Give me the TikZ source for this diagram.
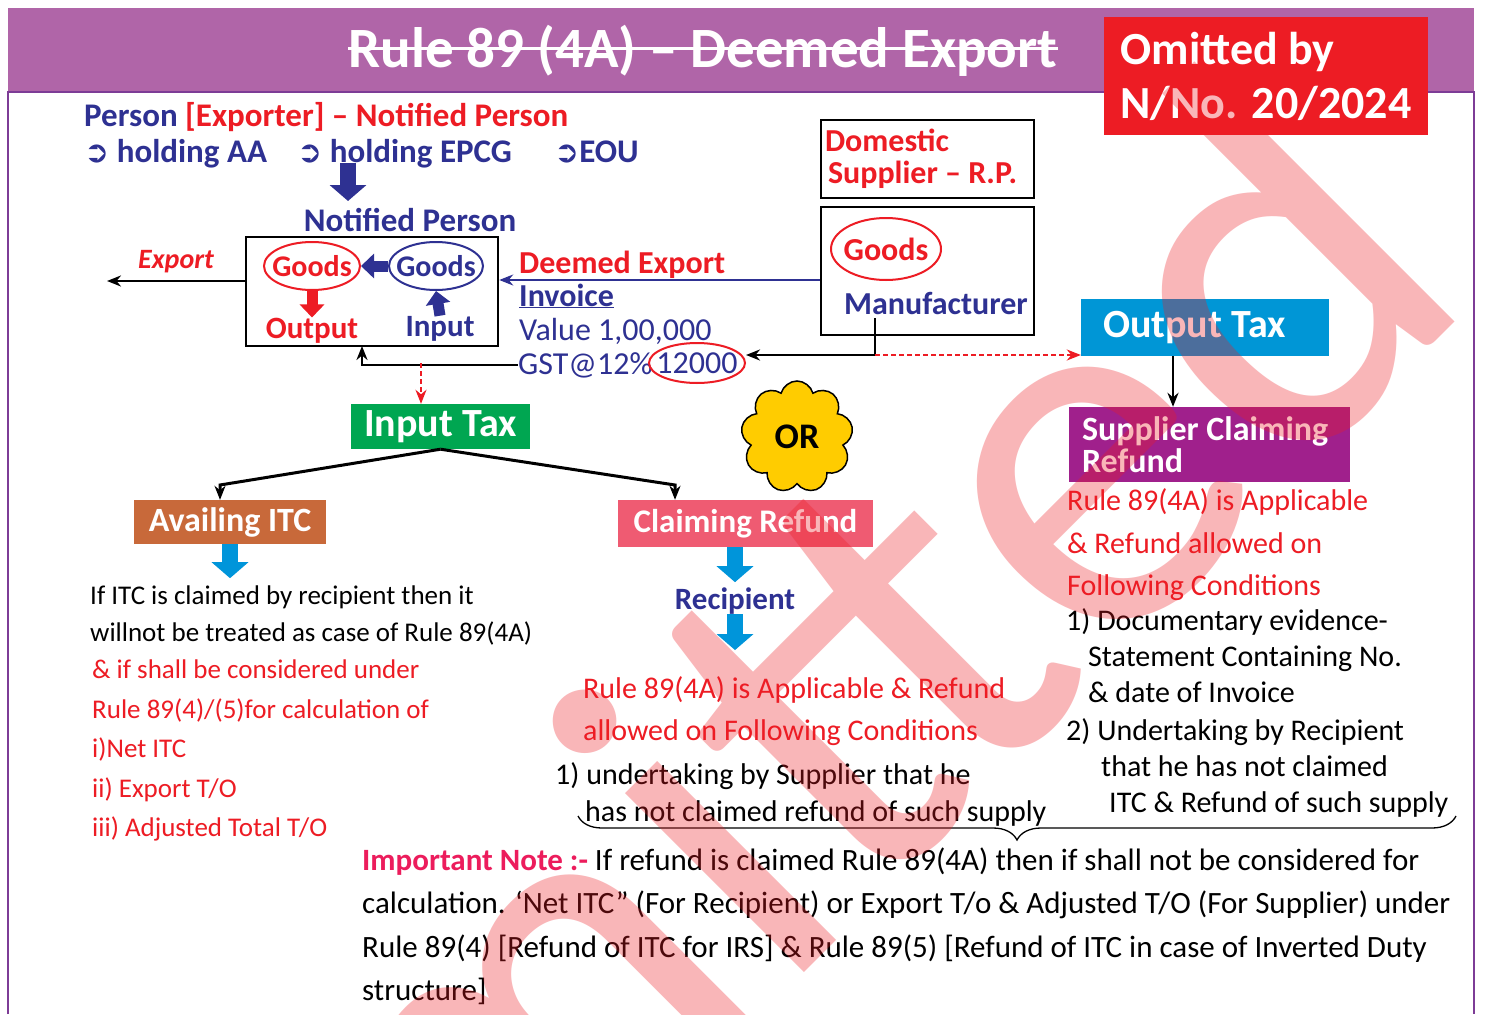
\documentclass[tikz,border=0pt]{standalone}
\usepackage{fontspec}
\setmainfont{Carlito}
\newfontfamily\dejavu{DejaVu Sans}
\usetikzlibrary{shapes.geometric,shapes.symbols,decorations.pathreplacing,arrows.meta}

\definecolor{bandpurple}{RGB}{176,101,168}
\definecolor{rulepurple}{RGB}{125,60,150}
\definecolor{omitred}{RGB}{237,28,36}
\definecolor{navy}{RGB}{46,49,146}
\definecolor{taxblue}{RGB}{0,150,214}
\definecolor{refundpurple}{RGB}{160,32,140}
\definecolor{taxgreen}{RGB}{0,166,81}
\definecolor{itcbrown}{RGB}{200,105,58}
\definecolor{claimpink}{RGB}{239,91,114}
\definecolor{arrowblue}{RGB}{0,149,218}
\definecolor{oryellow}{RGB}{255,204,0}
\definecolor{notepink}{RGB}{236,28,92}

\newcommand\fsz[1]{\fontsize{#1}{#1}\selectfont}

\begin{document}
\begin{tikzpicture}[x=1pt,y=-1pt,>={Stealth[length=14pt,width=11pt]},
  txt/.style={inner sep=0pt,anchor=base west},
  plainbox/.style={draw,line width=2.5pt,inner sep=0pt},
  colbox/.style={fill=#1,text=white,inner sep=0pt,font=\bfseries\fsz{34}},
  oval/.style={ellipse,draw=#1,line width=2pt,inner sep=0pt},
  block/.style={draw=#1,line width=16pt,-{Triangle[width=36pt,length=16pt]}},
  smallblock/.style={draw=#1,line width=11pt,-{Triangle[width=24pt,length=13pt]}},
  link/.style={line width=2.5pt,->},
  dashlink/.style={omitred,line width=2pt,dash pattern=on 5pt off 3pt,->},
  lcol/.style={txt,font=\fsz{27}},
  mcol/.style={txt,font=\fsz{30}},
  rcol/.style={txt,font=\fsz{30}},
  note/.style={txt,font=\fsz{31}}]
   \useasboundingbox (0,0) rectangle (1487,1014);
   \fill[white] (0,0) rectangle (1487,1014);

   % title band
   \fill[bandpurple] (8,8) rectangle (1474,92);
   \draw[rulepurple,line width=1.2pt] (8,1014) -- (8,92) -- (1474,92) -- (1474,1014);
   \node[txt,anchor=base,text=white,font=\bfseries\fsz{57}] (title) at (703,68) {Rule 89 (4A) -- Deemed Export};
   \draw[white,line width=3pt] ([yshift=19pt]title.base west) -- ([yshift=19pt]title.base east);
   \node[fill=omitred,text=white,font=\bfseries\fontsize{46}{54}\selectfont,minimum width=324pt,minimum height=118pt,
         inner sep=0pt,align=flush left] (omit) at (1266,76) {Omitted by\\N/No. 20/2024};

   % exporter
   \node[txt,text=navy,font=\bfseries\fsz{33}] (person) at (84,127) {Person \textcolor{omitred}{[Exporter] -- Notified Person}};
   \node[txt,text=navy,font=\bfseries\fsz{33}] (aa) at (84,162) {{\dejavu\fsz{30}➲} holding AA};
   \node[txt,text=navy,font=\bfseries\fsz{33}] (epcg) at (297,162) {{\dejavu\fsz{30}➲} holding EPCG};
   \node[txt,text=navy,font=\bfseries\fsz{33}] (eou) at (554,162) {{\dejavu\fsz{30}➲}EOU};
   \coordinate (epcgfoot) at (348,163);
   \draw[block=navy] (epcgfoot) -- ++(0,38);

   % notified person
   \node[txt,anchor=base,text=navy,font=\bfseries\fsz{33}] (nptitle) at (410,231) {Notified Person};
   \node[plainbox,minimum width=252pt,minimum height=109pt] (npbox) at (372,291.5) {};
   \node[oval=omitred,minimum width=96pt,minimum height=48pt,label={[text=omitred,font=\bfseries\fsz{30}]center:Goods}] (gout) at (312,266) {};
   \node[oval=navy,minimum width=94pt,minimum height=48pt,label={[text=navy,font=\bfseries\fsz{30}]center:Goods}] (gin) at (436,266) {};
   \node[txt,anchor=base,text=omitred,font=\bfseries\fsz{31}] (outp) at (312,338) {Output};
   \node[txt,anchor=base,text=navy,font=\bfseries\fsz{31}] (inp) at (440,336) {Input};
   \draw[smallblock=navy] (gin.west) -- (gout.east);
   \draw[smallblock=omitred] (gout.south) -- (outp.north);
   \draw[smallblock=navy] (inp.north) -- (gin.south);
   \coordinate (exptip) at (107,281);
   \draw[link] (npbox.west |- exptip) -- (exptip);
   \node[txt,text=omitred,font=\bfseries\itshape\fsz{28}] (export) at (138,268) {Export};

   % invoice
   \node[txt,text=omitred,font=\bfseries\fsz{32}] (deemed) at (519,273) {Deemed Export};
   \node[txt,text=navy,font=\bfseries\fsz{32}] (invoice) at (519,306) {\underline{Invoice}};
   \node[txt,text=navy,font=\fsz{32}] (value) at (519,340) {Value 1,00,000};
   \node[txt,text=navy,font=\fsz{32}] (gst) at (518,374) {GST@12\%};
   \node[oval=omitred,minimum width=96pt,minimum height=40pt,label={[text=navy,font=\fsz{32}]center:12000}] (amt) at (697,363) {};

   % domestic supplier
   \node[plainbox,minimum width=213pt,minimum height=78pt,text width=205pt,inner xsep=4pt,align=flush left,
         text=omitred,font=\bfseries\fsz{32}] (dsbox) at (927.5,159) {Domestic\\\hspace*{3pt}Supplier -- R.P.};
   \node[plainbox,minimum width=213pt,minimum height=128pt] (mfbox) at (927.5,271) {};
   \node[oval=omitred,minimum width=110pt,minimum height=62pt,label={[text=omitred,font=\bfseries\fsz{32}]center:Goods}] (gmf) at (886,249) {};
   \node[txt,anchor=base,text=navy,font=\bfseries\fsz{32}] (mf) at (936,314) {Manufacturer};
   \coordinate (invy) at (660,280);
   \draw[navy,line width=2pt,->] (mfbox.west |- invy) -- (npbox.east |- invy);

   % output tax
   \node[colbox=taxblue,font=\bfseries\fsz{40},minimum width=248pt,minimum height=57pt,text width=226pt,
         inner xsep=11pt,align=flush left] (outtax) at (1205,327.5) {\hspace*{11pt}Output Tax};
   \node[colbox=refundpurple,minimum width=281pt,minimum height=75pt,text width=255pt,inner xsep=13pt,align=flush left,
         font=\bfseries\fontsize{34}{32}\selectfont] (suprf) at (1209.5,444.5) {Supplier Claiming\\Refund};
   \coordinate (mfdrop) at (875,318);
   \coordinate (mfturn) at (875,355);
   \draw[link] (mfdrop) -- (mfturn) -- (mfturn -| amt.east);
   \draw[dashlink] (mfturn) -- (mfturn -| outtax.west);
   \coordinate (otdrop) at (1173,356);
   \draw[link] (otdrop) -- (otdrop |- suprf.north);

   % input tax
   \node[colbox=taxgreen,font=\bfseries\fsz{40},minimum width=179pt,minimum height=45pt] (intax) at (440.5,426.5) {Input Tax};
   \coordinate (npfoot) at (362,346);
   \draw[link] (gst.west) -| (npfoot);
   \coordinate (gstfork) at (421,363);
   \draw[dashlink] (gstfork) -- (gstfork |- intax.north);
   \node[cloud,cloud puffs=9,aspect=1,draw,line width=1.5pt,fill=oryellow,minimum width=112pt,minimum height=112pt,
         inner sep=0pt,font=\bfseries\fsz{36}] (orc) at (797,437) {OR};

   % branches
   \node[colbox=itcbrown,minimum width=192pt,minimum height=44pt] (avail) at (230,522) {Availing ITC};
   \node[colbox=claimpink,font=\bfseries\fsz{33},minimum width=255pt,minimum height=47pt] (claim) at (745.5,523.5) {Claiming Refund};
   \coordinate (lbend) at (220,485);
   \coordinate (rbend) at (675,485);
   \draw[link,line width=3pt] (intax.south) -- (lbend) -- (lbend |- avail.north);
   \draw[link,line width=3pt] (intax.south) -- (rbend) -- (rbend |- claim.north);
   \draw[block=arrowblue] (avail.south) -- ++(0,34);
   \node[txt,anchor=base,text=navy,font=\bfseries\fsz{31}] (recip) at (735,609) {Recipient};
   \draw[block=arrowblue] (claim.south -| recip) -- ++(0,35);
   \draw[block=arrowblue] (recip.south) -- ++(0,36);

   % availing ITC
   \node[lcol] (a1) at (90,604) {If ITC is claimed by recipient then it};
   \node[lcol] (a2) at (90,641) {willnot be treated as case of Rule 89(4A)};
   \node[lcol,text=omitred] (a3) at (92,678) {\& if shall be considered under};
   \node[lcol,text=omitred] (a4) at (92,718) {Rule 89(4)/(5)for calculation of};
   \node[lcol,text=omitred] (a5) at (92,757) {i)Net ITC};
   \node[lcol,text=omitred] (a6) at (92,797) {ii) Export T/O};
   \node[lcol,text=omitred] (a7) at (92,836) {iii) Adjusted Total T/O};

   % claiming refund
   \node[mcol,text=omitred] (c1) at (583,698) {Rule 89(4A) is Applicable \& Refund};
   \node[mcol,text=omitred] (c2) at (583,740) {allowed on Following Conditions};
   \node[mcol] (c3) at (555,784) {1) undertaking by Supplier that he};
   \node[mcol] (c4) at (585,821) {has not claimed refund of such supply};

   % supplier claiming refund
   \node[rcol,text=omitred] (r1) at (1067,510) {Rule 89(4A) is Applicable};
   \node[rcol,text=omitred] (r2) at (1067,553) {\& Refund allowed on};
   \node[rcol,text=omitred] (r3) at (1067,595) {Following Conditions};
   \node[rcol] (r4) at (1066,630) {1) Documentary evidence-};
   \node[rcol] (r5) at (1088,666) {Statement Containing No.};
   \node[rcol] (r6) at (1088,702) {\& date of Invoice};
   \node[rcol] (r7) at (1066,740) {2) Undertaking by Recipient};
   \node[rcol] (r8) at (1101,776) {that he has not claimed};
   \node[rcol] (r9) at (1109,812) {ITC \& Refund of such supply};

   \coordinate (brl) at (578,816);
   \coordinate (brr) at (1456,816);
   \draw[line width=1.3pt,decorate,decoration={brace,mirror,amplitude=24pt}] (brl) -- (brr);

   % note
   \node[note] (n1) at (362,870) {\textcolor{notepink}{\bfseries Important Note :-} If refund is claimed Rule 89(4A) then if shall not be considered for};
   \node[note] (n2) at (362,913) {calculation. ‘Net ITC” (For Recipient) or Export T/o \& Adjusted T/O (For Supplier) under};
   \node[note] (n3) at (362,957) {Rule 89(4) [Refund of ITC for IRS] \& Rule 89(5) [Refund of ITC in case of Inverted Duty};
   \node[note] (n4) at (362,1000) {structure]};

   % watermark
   \begin{scope}
     \clip (0,0) rectangle (1487,1014);
     \node[txt,anchor=base east,rotate=45,text=omitred,text opacity=0.32,font=\fsz{530}] (wmark) at (1481,296) {Omitted};
   \end{scope}
\end{tikzpicture}
\end{document}
